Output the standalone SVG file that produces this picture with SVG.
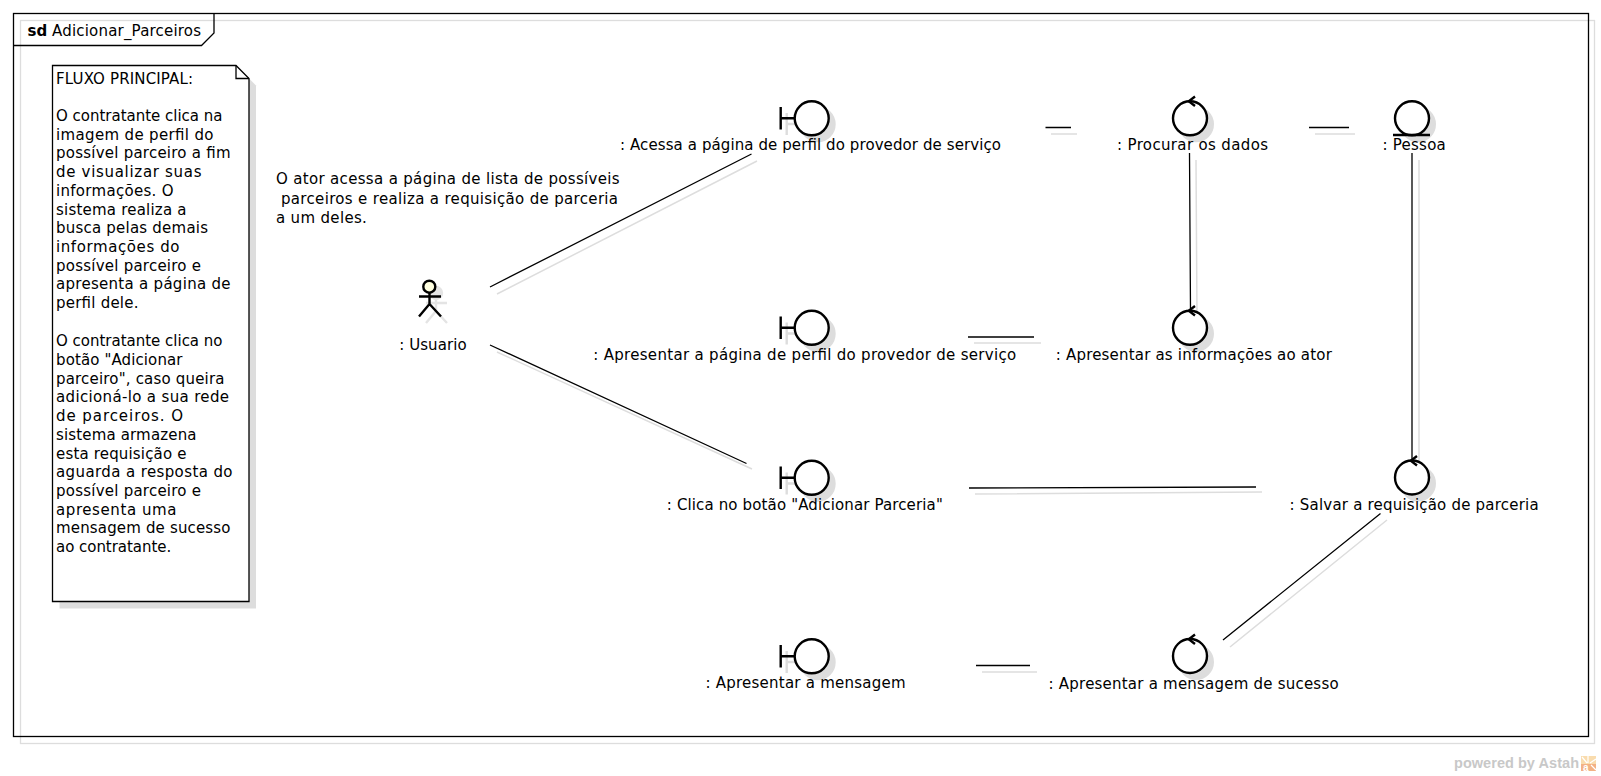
<svg xmlns="http://www.w3.org/2000/svg" width="1601" height="776" viewBox="0 0 1601 776">
<style>
text{font-family:"DejaVu Sans",sans-serif;font-size:15px;fill:#000}
.n{letter-spacing:.33px}
.s{fill:none;stroke:#ddd;stroke-width:1.5}
.k{fill:none;stroke:#000;stroke-width:1.3}
.g{fill:none;stroke:#000;stroke-width:2.4}
.h{fill:none;stroke:#ddd;stroke-width:2.4}
.sc{fill:#ddd;stroke:#ddd;stroke-width:2}
.w{fill:#fff;stroke:#000;stroke-width:2.4}
</style>
<defs>
<g id="boundary-shadow"><circle class="sc" cx="817.7" cy="124.3" r="17"/><path class="h" d="M786.7 113v22M786.7 124H801"/></g>
<g id="b"><circle class="w" cx="811.7" cy="118.3" r="17"/><path class="g" d="M780.7 107v22.5M780.7 118.3H795"/></g>
<path id="ar" class="g" d="M1195 96.500L1188.800 101.200L1195 106"/>
</defs>
<rect width="1601" height="776" fill="#fff"/>
<g id="frame">
<rect x="20.5" y="20.5" width="1574" height="723" fill="none" stroke="#ddd" stroke-width="1.3"/>
<rect x="13.5" y="13.5" width="1575" height="723" fill="none" stroke="#000" stroke-width="1.3"/>
<path class="k" d="M13.500 45.500H201.500L214 33V13.500"/>
<text x="27.500" y="35.500" style="font-weight:700">sd</text>
<text x="52" y="35.500" textLength="149">Adicionar_Parceiros</text>
</g>
<g id="note">
<path d="M59.500 72.500H243L256 85.500V608.500H59.500Z" fill="#ddd"/>
<path d="M52.500 65.500H236L249 78.500V601.500H52.500Z" fill="#fff" stroke="#000" stroke-width="1.300"/>
<path class="k" d="M236 65.500V78.500H249"/>
<text x="56" y="84" textLength="137">FLUXO PRINCIPAL:</text>
<text x="56" y="121" textLength="166.500">O contratante clica na</text>
<text x="56" y="139.700" textLength="157.500">imagem de perfil do</text>
<text x="56" y="158.400" textLength="174.500">possível parceiro a fim</text>
<text x="56" y="177.100" textLength="145.500">de visualizar suas</text>
<text x="56" y="195.800" textLength="117.500">informações. O</text>
<text x="56" y="214.500" textLength="130.500">sistema realiza a</text>
<text x="56" y="233.200" textLength="152">busca pelas demais</text>
<text x="56" y="251.900" textLength="123.500">informações do</text>
<text x="56" y="270.600" textLength="145">possível parceiro e</text>
<text x="56" y="289.300" textLength="174.500">apresenta a página de</text>
<text x="56" y="308" textLength="82.500">perfil dele.</text>
<text x="56" y="346" textLength="166.500">O contratante clica no</text>
<text x="56" y="365" textLength="126.500">botão "Adicionar</text>
<text x="56" y="383.700" textLength="168.500">parceiro", caso queira</text>
<text x="56" y="402.400" textLength="173">adicioná-lo a sua rede</text>
<text x="56" y="421.100" textLength="127">de parceiros. O</text>
<text x="56" y="439.800" textLength="140.500">sistema armazena</text>
<text x="56" y="458.500" textLength="130.500">esta requisição e</text>
<text x="56" y="477.200" textLength="176.500">aguarda a resposta do</text>
<text x="56" y="495.900" textLength="145">possível parceiro e</text>
<text x="56" y="514.600" textLength="120.500">apresenta uma</text>
<text x="56" y="533.300" textLength="174.500">mensagem de sucesso</text>
<text x="56" y="552" textLength="115.300">ao contratante.</text>
</g>
<g id="annotation" class="n">
<text x="276" y="184">O ator acessa a página de lista de possíveis</text>
<text x="281" y="204">parceiros e realiza a requisição de parceria</text>
<text x="276" y="223">a um deles.</text>
</g>
<g id="connectors">
<path class="s" d="M497 294L757 161M497 352L752 469M1051 134H1077M1315 134H1355M1196 160L1197 318M1419 160V468M974 343H1041M975 494L1262 492M982 672H1037M1387 520L1230 647"/>
<path class="k" d="M490 287L751.500 154M490 345L746.500 463.500M1045.500 127.500H1071M1309 127.500H1349M1189.500 153L1190.500 311M1412 153V460M968 337H1034M969 488L1256 487M976 665.500H1030M1380.500 513.500L1223 640"/>
</g>
<g id="usuario">
<g stroke="#e4e4e4" fill="none" stroke-width="2.400"><circle cx="436" cy="293" r="6" fill="#e4e4e4"/><path d="M436 299V311M426 303H447M436 311L426 323M436 311L447 323"/></g>
<circle cx="429.300" cy="286.700" r="6" fill="#ffffe0" stroke="#000" stroke-width="2.400"/>
<path class="g" d="M429.500 293V304M419 296.500H441M429.500 304L419 316.500M429.500 304L441 316.500"/>
<text x="399.200" y="349.500" textLength="67.400">: Usuario</text>
</g>
<g id="acessa">
<use href="#boundary-shadow"/><use href="#b"/>
<text x="620" y="149.500" textLength="381">: Acessa a página de perfil do provedor de serviço</text>
</g>
<g id="apresentar-pagina">
<use href="#boundary-shadow" y="209.500"/><use href="#b" y="209.500"/>
<text x="593.200" y="359.500" textLength="423">: Apresentar a página de perfil do provedor de serviço</text>
</g>
<g id="clica">
<use href="#boundary-shadow" y="359.500"/><use href="#b" y="359.500"/>
<text x="666.800" y="510" textLength="276">: Clica no botão "Adicionar Parceria"</text>
</g>
<g id="apresentar-mensagem">
<use href="#boundary-shadow" y="538"/><use href="#b" y="538"/>
<text x="705.500" y="687.500" textLength="200">: Apresentar a mensagem</text>
</g>
<g id="procurar">
<circle class="sc" cx="1196" cy="124.300" r="17"/><circle class="w" cx="1190" cy="118.300" r="17"/>
<use href="#ar"/>
<text x="1117" y="149.500" textLength="151">: Procurar os dados</text>
</g>
<g id="apresentar-info">
<circle class="sc" cx="1196" cy="333.800" r="17"/><circle class="w" cx="1190" cy="327.800" r="17"/>
<use href="#ar" y="209.500"/>
<text x="1055.800" y="359.500" textLength="276">: Apresentar as informações ao ator</text>
</g>
<g id="pessoa">
<circle class="sc" cx="1418" cy="124.300" r="17"/><circle class="w" cx="1412" cy="118.300" r="17"/>
<path class="g" d="M1393 135H1430"/>
<text x="1382.500" y="149.500" textLength="63.300">: Pessoa</text>
</g>
<g id="salvar">
<circle class="sc" cx="1418" cy="483.500" r="17"/><circle class="w" cx="1412" cy="477.500" r="17"/>
<use href="#ar" x="222" y="359.500"/>
<text x="1289.600" y="510" textLength="249">: Salvar a requisição de parceria</text>
</g>
<g id="apresentar-sucesso">
<circle class="sc" cx="1196" cy="662" r="17"/><circle class="w" cx="1190" cy="656" r="17"/>
<use href="#ar" y="538"/>
<text x="1048.600" y="688.500" textLength="290">: Apresentar a mensagem de sucesso</text>
</g>
<g id="watermark">
<text x="1454" y="768" textLength="125" style="font-family:'Liberation Sans',sans-serif;font-size:14.500px;font-weight:700;fill:#c8c8c8">powered by Astah</text>
<rect x="1581" y="756" width="15" height="15" fill="#f9dcae"/>
<path d="M1581 764H1596V771H1581Z" fill="#f3b184"/>
<path d="M1588 756V763M1582 757L1587 763M1596 759L1590 763M1591 765L1596 770" stroke="#fff" stroke-width="1.200" fill="none"/>
<text x="1583" y="770.500" style="font-family:'Liberation Sans',sans-serif;font-size:10px;font-weight:700;fill:#fff">a</text>
</g>
</svg>
